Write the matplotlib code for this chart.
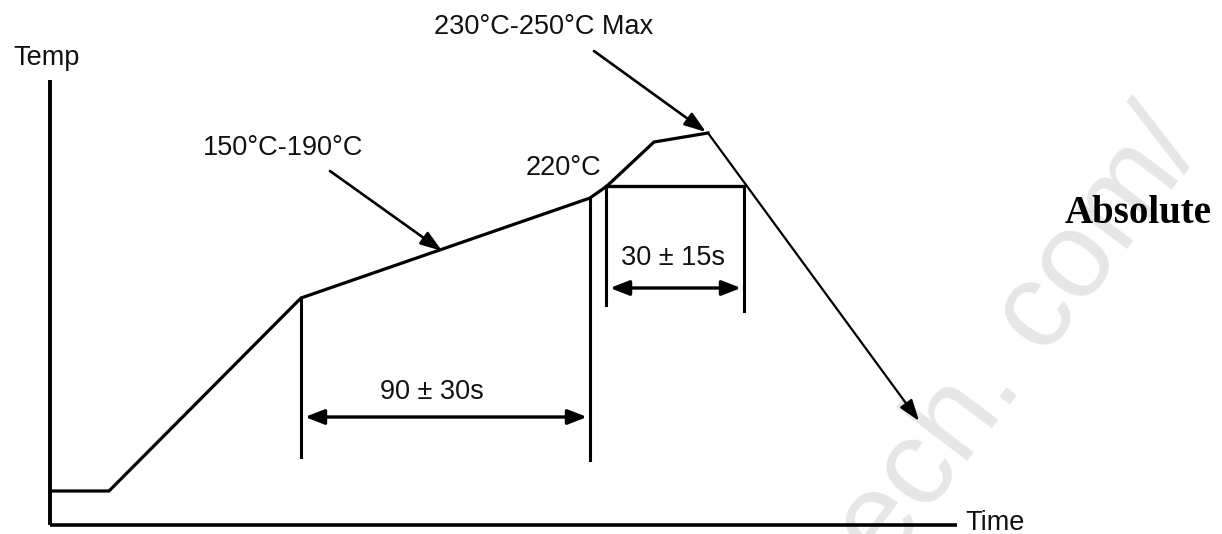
import numpy as np
import matplotlib.pyplot as plt

#----- reflow profile (schematic units: time -> right, temp -> up)
prof_t = [0, 59, 251, 540, 557, 604, 658, 869]
prof_T = [34, 34, 227, 327, 339, 383, 392, 104]

#----- axes extent
t_axis_end = 907
T_axis_end = 445

#----- marker lines
soak_t = [251, 540]
soak_bottom = [68, 65]
soak_arrow_T = 108
liq_T = 339
liq_t = [556, 694]
liq_bottom = [220, 214]
liq_arrow_T = 237

#----- labels
label_txt = ['Temp', '150°C-190°C', '220°C', '90 ± 30s', '30 ± 15s', '230°C-250°C Max']
label_t = [-3, 233, 513, 382, 623, 494]
label_T = [460, 370, 350, 126, 260, 491]

fig = plt.figure(figsize=(12.22, 5.34), dpi=100)
ax = fig.add_axes([0, 0, 1, 1])
ax.set_xlim(-50, 1172)
ax.set_ylim(-9, 525)
ax.axis('off')
plt.rcParams['font.family'] = ['Liberation Sans', 'DejaVu Sans']

# watermark
ax.text(835, -45, 'ech. com/', rotation=53, rotation_mode='anchor',
        ha='left', va='baseline', fontsize=88, color='#e6e6e6', zorder=0)

# axes lines
ax.plot([0, 0], [0, T_axis_end], color='black', lw=2.8, solid_capstyle='butt')
ax.plot([0, t_axis_end], [0, 0], color='black', lw=2.6, solid_capstyle='butt')

# profile (heating part thick, cooling part thinner with arrow)
ax.plot(prof_t[:-1], prof_T[:-1], color='black', lw=2.3, solid_joinstyle='miter')
ax.annotate('', xy=(prof_t[-1], prof_T[-1]), xytext=(prof_t[-2], prof_T[-2]),
            arrowprops=dict(arrowstyle='-|>,head_length=1.3,head_width=0.45',
                            mutation_scale=10, lw=1.6, color='black',
                            shrinkA=0, shrinkB=0))

# soak window
for t, b, top in zip(soak_t, soak_bottom, [prof_T[2], prof_T[3]]):
    ax.plot([t, t], [b, top], color='black', lw=2.2)
ax.annotate('', xy=(soak_t[1] - 3, soak_arrow_T), xytext=(soak_t[0] + 4, soak_arrow_T),
            arrowprops=dict(arrowstyle='<|-|>,head_length=1.15,head_width=0.45',
                            mutation_scale=10, lw=2.4, color='black',
                            shrinkA=0, shrinkB=0))

# time above liquidus
ax.plot(liq_t, [liq_T, liq_T], color='black', lw=2.4)
for t, b in zip(liq_t, liq_bottom):
    ax.plot([t, t], [b, liq_T], color='black', lw=2.2)
ax.annotate('', xy=(liq_t[1] - 3, liq_arrow_T), xytext=(liq_t[0] + 4, liq_arrow_T),
            arrowprops=dict(arrowstyle='<|-|>,head_length=1.15,head_width=0.45',
                            mutation_scale=10, lw=2.4, color='black',
                            shrinkA=0, shrinkB=0))

# pointer arrows
ax.annotate('', xy=(392, 274), xytext=(280, 354),
            arrowprops=dict(arrowstyle='-|>,head_length=1.3,head_width=0.45',
                            mutation_scale=10, lw=1.9, color='black',
                            shrinkA=0, shrinkB=0))
ax.annotate('', xy=(656, 393), xytext=(544, 474),
            arrowprops=dict(arrowstyle='-|>,head_length=1.3,head_width=0.45',
                            mutation_scale=10, lw=1.9, color='black',
                            shrinkA=0, shrinkB=0))

# labels
for s, t, T in zip(label_txt, label_t, label_T):
    ax.text(t, T, s, ha='center', va='baseline', fontsize=19.5, color='#111111')
ax.text(915, -5, 'Time', ha='left', va='baseline', fontsize=19.5, color='#111111')
ax.text(1088, 302, 'Absolute', ha='center', va='baseline', fontsize=28,
        fontweight='bold', family=['Liberation Serif', 'DejaVu Serif'], color='black')

plt.savefig('out.png', dpi=100)
